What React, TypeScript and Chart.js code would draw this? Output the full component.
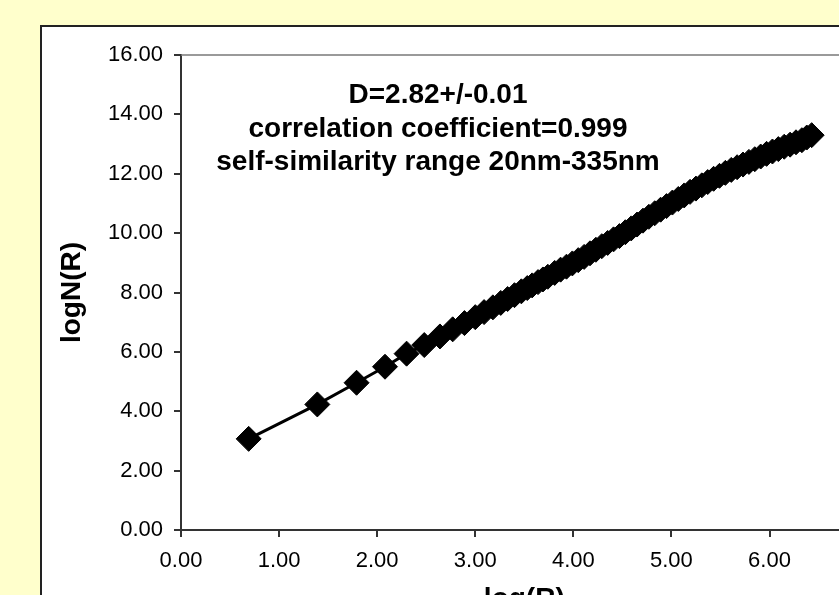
import React, { useEffect, useRef } from 'react';
import { Chart, registerables } from 'chart.js';

Chart.register(...registerables);

const logR = [
  0.69, 1.39, 1.79, 2.08, 2.30, 2.48, 2.64, 2.77, 2.89, 3.00,
  3.09, 3.18, 3.26, 3.33, 3.40, 3.47, 3.53, 3.58, 3.64, 3.69,
  3.74, 3.81, 3.87, 3.93, 3.99, 4.05, 4.11, 4.17, 4.23, 4.29,
  4.35, 4.41, 4.47, 4.53, 4.59, 4.65, 4.71, 4.77, 4.83, 4.89,
  4.95, 5.01, 5.07, 5.13, 5.19, 5.25, 5.31, 5.37, 5.43, 5.49,
  5.55, 5.61, 5.67, 5.73, 5.79, 5.85, 5.91, 5.97, 6.03, 6.09,
  6.15, 6.21, 6.27, 6.33, 6.38, 6.43,
];

const logN = [
  3.07, 4.23, 4.96, 5.50, 5.94, 6.23, 6.52, 6.76, 6.97, 7.17,
  7.34, 7.50, 7.65, 7.78, 7.91, 8.04, 8.15, 8.24, 8.35, 8.44,
  8.53, 8.66, 8.77, 8.87, 8.98, 9.09, 9.20, 9.32, 9.44, 9.56,
  9.67, 9.79, 9.90, 10.03, 10.16, 10.29, 10.42, 10.55, 10.67, 10.79,
  10.91, 11.03, 11.15, 11.27, 11.39, 11.50, 11.61, 11.72, 11.83, 11.93,
  12.03, 12.13, 12.22, 12.31, 12.40, 12.49, 12.58, 12.67, 12.75, 12.83,
  12.91, 12.98, 13.06, 13.13, 13.22, 13.30,
];

const annotationLines = [
  'D=2.82+/-0.01',
  'correlation coefficient=0.999',
  'self-similarity range 20nm-335nm',
];

const xTitle = 'log(R)';
const yTitle = 'logN(R)';

const FONT = "'Liberation Sans', Arial, Helvetica, sans-serif";

export default function App() {
  const ref = useRef<HTMLCanvasElement>(null);

  useEffect(() => {
    const canvas = ref.current;
    if (!canvas) return;

    const frameAndText = {
      id: 'frameAndText',
      beforeDatasetsDraw(chart: any) {
        const { ctx, chartArea } = chart;
        ctx.save();
        ctx.strokeStyle = '#7a7a7a';
        ctx.lineWidth = 1.5;
        ctx.beginPath();
        ctx.moveTo(chartArea.left, chartArea.top);
        ctx.lineTo(chartArea.right, chartArea.top);
        ctx.lineTo(chartArea.right, chartArea.bottom);
        ctx.stroke();
        ctx.restore();
      },
      afterDraw(chart: any) {
        const { ctx } = chart;
        ctx.save();
        ctx.font = `bold 28px ${FONT}`;
        ctx.fillStyle = '#000';
        ctx.textAlign = 'center';
        ctx.textBaseline = 'alphabetic';
        const baselines = [103, 137, 170];
        annotationLines.forEach((t, i) => ctx.fillText(t, 438, baselines[i]));
        ctx.restore();
      },
    };

    const chart = new Chart(canvas, {
      type: 'line',
      data: {
        datasets: [
          {
            data: logR.map((x, i) => ({ x, y: logN[i] })),
            borderColor: '#000',
            backgroundColor: '#000',
            borderWidth: 3,
            pointStyle: 'rectRot',
            pointRadius: 12.5,
            pointBorderWidth: 1,
            pointBackgroundColor: '#000',
            pointBorderColor: '#000',
            tension: 0,
          },
        ],
      },
      options: {
        responsive: false,
        animation: false,
        devicePixelRatio: 1,
        layout: { padding: { left: 0, top: 55, right: 31, bottom: 0 } },
        plugins: { legend: { display: false }, tooltip: { enabled: false } },
        scales: {
          x: {
            type: 'linear',
            min: 0,
            max: 7,
            afterFit: (s: any) => {
              s.height = 110;
            },
            ticks: {
              stepSize: 1,
              autoSkip: false,
              maxRotation: 0,
              padding: 11,
              color: '#000',
              font: { family: FONT, size: 22 },
              callback: (v: any) => Number(v).toFixed(2),
            },
            grid: { drawOnChartArea: false, color: '#333', lineWidth: 2, tickLength: 7 },
            border: { color: '#333', width: 2 },
            title: {
              display: true,
              text: xTitle,
              color: '#000',
              font: { family: FONT, size: 28, weight: 'bold' },
              padding: { top: 0, bottom: 24 },
            },
          },
          y: {
            type: 'linear',
            min: 0,
            max: 16,
            afterFit: (s: any) => {
              s.width = 181;
            },
            ticks: {
              stepSize: 2,
              padding: 11,
              color: '#000',
              font: { family: FONT, size: 22 },
              callback: (v: any) => Number(v).toFixed(2),
            },
            grid: { drawOnChartArea: false, color: '#333', lineWidth: 2, tickLength: 7 },
            border: { color: '#333', width: 2 },
            title: {
              display: true,
              text: yTitle,
              color: '#000',
              font: { family: FONT, size: 28, weight: 'bold' },
              padding: { top: 55, bottom: 0 },
            },
          },
        },
      },
      plugins: [frameAndText],
    } as any);

    return () => chart.destroy();
  }, []);

  return (
    <div
      style={{
        position: 'fixed',
        left: 0,
        top: 0,
        width: 839,
        height: 595,
        overflow: 'hidden',
        background: '#FFFFCC',
      }}
    >
      <div
        style={{
          position: 'absolute',
          left: 40,
          top: 25,
          width: 900,
          height: 700,
          background: '#fff',
          border: '2px solid #222',
          boxSizing: 'border-box',
        }}
      />
      <canvas
        ref={ref}
        width={900}
        height={640}
        style={{ position: 'absolute', left: 0, top: 0, display: 'block' }}
      />
    </div>
  );
}
